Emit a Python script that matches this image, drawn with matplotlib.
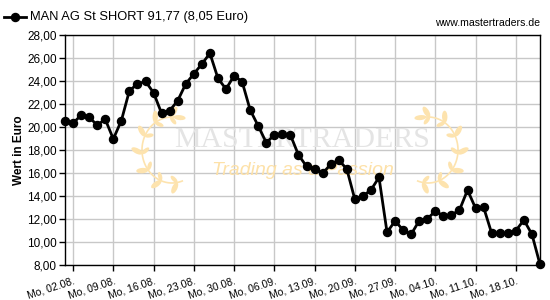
import matplotlib
matplotlib.use('Agg')
import numpy as np
import matplotlib.pyplot as plt
from matplotlib.ticker import FixedLocator, FuncFormatter
from matplotlib.patches import Ellipse
from matplotlib.transforms import Affine2D

title = "MAN AG St SHORT 91,77 (8,05 Euro)"
source = "www.mastertraders.de"
ylabel = "Wert in Euro"

values = [20.55, 20.32, 21.04, 20.84, 20.17, 20.67, 18.96, 20.55, 23.16, 23.74,
          23.97, 22.98, 21.19, 21.42, 22.29, 23.75, 24.62, 25.48, 26.41, 24.23,
          23.30, 24.46, 23.94, 21.48, 20.09, 18.64, 19.30, 19.39, 19.30, 17.57,
          16.58, 16.39, 15.97, 16.75, 17.13, 16.35, 13.71, 14.00, 14.52, 15.62,
          10.84, 11.83, 11.04, 10.67, 11.86, 12.00, 12.70, 12.26, 12.35, 12.78,
          14.52, 12.93, 13.01, 10.75, 10.75, 10.75, 10.99, 11.91, 10.67, 8.05]

tick_pos = [1, 6, 11, 16, 21, 26, 31, 36, 41, 46, 51, 56]
tick_labels = ["Mo, 02.08.", "Mo, 09.08.", "Mo, 16.08.", "Mo, 23.08.", "Mo, 30.08.",
               "Mo, 06.09.", "Mo, 13.09.", "Mo, 20.09.", "Mo, 27.09.", "Mo, 04.10.",
               "Mo, 11.10.", "Mo, 18.10."]
y_ticks = [8, 10, 12, 14, 16, 18, 20, 22, 24, 26, 28]

plt.rcParams['font.family'] = ['Liberation Sans', 'DejaVu Sans']

W, H = 550, 300
fig = plt.figure(figsize=(5.5, 3), dpi=100)
ax = fig.add_axes([65 / W, 1 - 265 / H, 475 / W, 230 / H])

# watermark (pixel coordinates, y downwards)
pix = Affine2D().scale(1, -1).translate(0, H)
leaf_col = '#fde3ae'


def laurel(cx, cy, rx, ry, t_bottom, t_top, sign):
    ts = np.linspace(t_bottom, t_top, 80)
    xs = cx + sign * rx * np.cos(np.radians(ts))
    ys = cy - ry * np.sin(np.radians(ts))
    ax.plot(xs, ys, transform=pix, color=leaf_col, lw=1.2, zorder=1)
    for t in np.linspace(t_bottom - 10, t_top + 8, 7):
        r = np.radians(t)
        px = cx + sign * rx * np.cos(r)
        py = cy - ry * np.sin(r)
        d = np.array([sign * rx * np.sin(r), ry * np.cos(r)])
        d /= np.linalg.norm(d)
        n = np.array([px - cx, py - cy])
        n /= np.linalg.norm(n)
        for side, ln in ((1, 12), (-1, 9)):
            v = 0.55 * d + side * 0.8 * n
            v /= np.linalg.norm(v)
            c = (px + v[0] * ln / 2, py + v[1] * ln / 2)
            ang = np.degrees(np.arctan2(v[1], v[0]))
            ax.add_patch(Ellipse(c, ln, ln * 0.45, angle=ang, transform=pix,
                                 color=leaf_col, lw=0, zorder=1))
    r = np.radians(t_top)
    d = np.array([sign * rx * np.sin(r), ry * np.cos(r)])
    d /= np.linalg.norm(d)
    px = cx + sign * rx * np.cos(r)
    py = cy - ry * np.sin(r)
    ax.add_patch(Ellipse((px + d[0] * 5, py + d[1] * 5), 12, 5,
                         angle=np.degrees(np.arctan2(d[1], d[0])), transform=pix,
                         color=leaf_col, lw=0, zorder=1))


laurel(172, 150, 30, 33, 290, 85, 1)
laurel(428, 150, 30, 33, 290, 85, -1)

ax.text(0.5, 0.545, "MASTERTRADERS", transform=ax.transAxes, ha='center', va='center',
        fontsize=21.5, family=['Liberation Serif', 'DejaVu Serif'], color='#e4e4e4', zorder=1)
ax.text(0.5, 0.41, "Trading as a Passion", transform=ax.transAxes, ha='center', va='center',
        fontsize=14, style='italic', color='#fde1a8', zorder=1)

x = list(range(len(values)))
ax.plot(x, values, color='black', lw=2, marker='o', ms=5.8, clip_on=False, zorder=3)

ax.set_xlim(0, len(values) - 1)
ax.set_ylim(y_ticks[0], y_ticks[-1])
ax.xaxis.set_major_locator(FixedLocator(tick_pos))
ax.set_xticklabels(tick_labels, rotation=18, ha='right', va='top', rotation_mode='anchor',
                   fontsize=7.5)
ax.set_yticks(y_ticks)
ax.yaxis.set_major_formatter(FuncFormatter(lambda v, p: f"{v:.2f}".replace('.', ',')))
ax.grid(True, color='#c8c8c8', lw=1)
ax.set_axisbelow(True)
ax.tick_params(axis='y', labelsize=8.5, length=4, width=1, color='black', pad=2)
ax.tick_params(axis='x', length=4, width=1, color='black', pad=4)
for s in ax.spines.values():
    s.set_color('black')
    s.set_linewidth(1)
ax.set_ylabel(ylabel, fontsize=8.5, fontweight='bold')
ax.yaxis.set_label_coords((25 - 65) / 475, 0.5)

# legend-like title
fig.add_artist(plt.Line2D([4 / W, 26 / W], [1 - 17 / H, 1 - 17 / H], transform=fig.transFigure,
                          color='black', lw=2))
fig.add_artist(plt.Line2D([15 / W], [1 - 17 / H], transform=fig.transFigure,
                          color='black', marker='o', ms=5.8, lw=0))
fig.text(30 / W, 1 - 17 / H, title, fontsize=9.3, ha='left', va='center')
fig.text(540 / W, 1 - 28 / H, source, fontsize=7.6, ha='right', va='bottom')

fig.savefig('out.png', dpi=100)
